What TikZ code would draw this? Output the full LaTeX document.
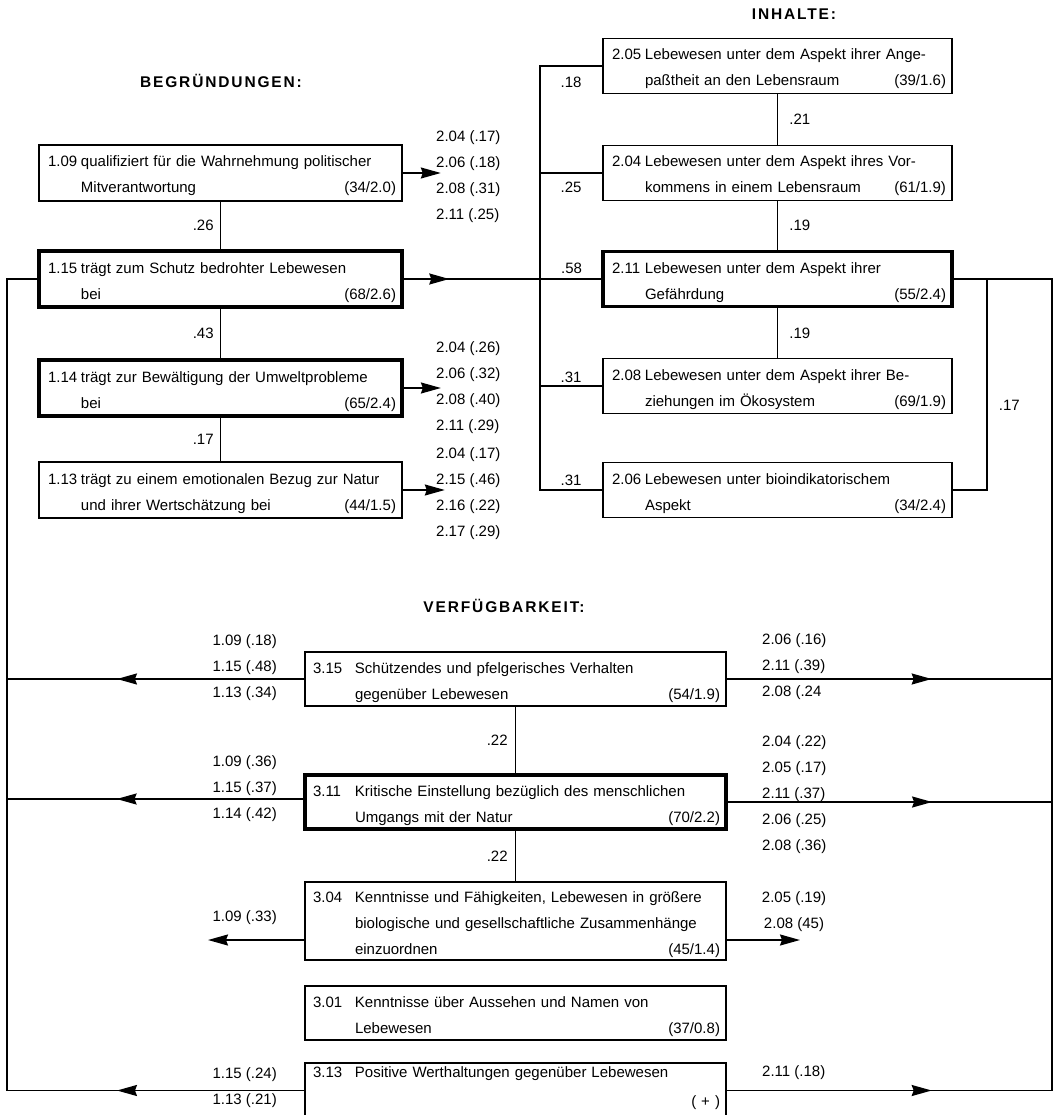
\documentclass[tikz,border=0pt]{standalone}
\usepackage{fontspec}
\setmainfont{Liberation Sans}
\usepackage{tikz}
\usetikzlibrary{arrows.meta,decorations.markings}

\newcommand{\stl}{\rule[-6pt]{0pt}{26pt}}
\newcommand{\nra}[1]{\stl\makebox[36pt][l]{\hspace*{3pt}#1}}
\newcommand{\ina}{\stl\hspace*{36pt}}
\newcommand{\nrb}[1]{\stl\makebox[44pt][l]{\hspace*{2pt}#1}}
\newcommand{\inb}{\stl\hspace*{44pt}}

\begin{document}
\begin{tikzpicture}[x=1pt,y=-1pt]
\tikzset{box/.style = {draw, line width=1.6pt, inner sep=0pt, align=left,
  font=\fontsize{15}{26}\selectfont}}
\tikzset{lbox/.style = {box, minimum width=363pt, text width=351pt, minimum height=56pt}}
\tikzset{ibox/.style = {box, minimum width=349pt, text width=337pt, minimum height=55pt}}
\tikzset{vbox/.style = {box, minimum width=421pt, text width=409pt, minimum height=54pt}}
\tikzset{heavy/.style = {line width=3.8pt}}
\tikzset{lab/.style = {inner sep=0pt, font=\fontsize{15}{26}\selectfont}}
\tikzset{head/.style = {inner sep=0pt,
  font={\fontsize{15.5}{18}\selectfont\bfseries\addfontfeature{LetterSpace=12}}}}
\tikzset{edge/.style = {line width=1.7pt}}
\tikzset{tip/.style = {-{Stealth[length=20pt,width=11pt,inset=2pt]}}}
\tikzset{mid/.style = {postaction={decorate,decoration={markings,
  mark=at position #1 with {\arrow{Stealth[length=20pt,width=11pt,inset=2pt]}}}}}}
\useasboundingbox (0,0) rectangle (1058,1115);
% headings
\node[head] (hb) at (221,81) {BEGRÜNDUNGEN:};
\node[head] (hi) at (794,14) {INHALTE:};
\node[head] (hv) at (504,606) {VERFÜGBARKEIT:};
% begruendungen
\node[lbox] (b109) at (220.5,173) {\nra{1.09}qualifiziert für die Wahrnehmung politischer\\\ina Mitverantwortung\hfill(34/2.0)};
\node[lbox,heavy] (b115) at (220.5,279) {\nra{1.15}trägt zum Schutz bedrohter Lebewesen\\\ina bei\hfill(68/2.6)};
\node[lbox,heavy] (b114) at (220.5,388) {\nra{1.14}trägt zur Bewältigung der Umweltprobleme\\\ina bei\hfill(65/2.4)};
\node[lbox] (b113) at (220.5,490) {\nra{1.13}trägt zu einem emotionalen Bezug zur Natur\\\ina und ihrer Wertschätzung bei\hfill(44/1.5)};
% inhalte
\node[ibox] (i205) at (777.5,66) {\nra{2.05}Lebewesen unter dem Aspekt ihrer Ange-\\\ina paßtheit an den Lebensraum\hfill(39/1.6)};
\node[ibox] (i204) at (777.5,173) {\nra{2.04}Lebewesen unter dem Aspekt ihres Vor-\\\ina kommens in einem Lebensraum\hfill(61/1.9)};
\node[ibox,heavy] (i211) at (777.5,279) {\nra{2.11}Lebewesen unter dem Aspekt ihrer\\\ina Gefährdung\hfill(55/2.4)};
\node[ibox] (i208) at (777.5,386) {\nra{2.08}Lebewesen unter dem Aspekt ihrer Be-\\\ina ziehungen im Ökosystem\hfill(69/1.9)};
\node[ibox] (i206) at (777.5,490) {\nra{2.06}Lebewesen unter bioindikatorischem\\\ina Aspekt\hfill(34/2.4)};
% verfuegbarkeit
\node[vbox] (k315) at (515.5,679) {\nrb{3.15}Schützendes und pfelgerisches Verhalten\\\inb gegenüber Lebewesen\hfill(54/1.9)};
\node[vbox,heavy] (k311) at (515.5,802) {\nrb{3.11}Kritische Einstellung bezüglich des menschlichen\\\inb Umgangs mit der Natur\hfill(70/2.2)};
\node[vbox,minimum height=78pt] (k304) at (515.5,921) {\nrb{3.04}Kenntnisse und Fähigkeiten, Lebewesen in größere\\\inb biologische und gesellschaftliche Zusammenhänge\\\inb einzuordnen\hfill(45/1.4)};
\node[vbox] (k301) at (515.5,1013) {\nrb{3.01}Kenntnisse über Aussehen und Namen von\\\inb Lebewesen\hfill(37/0.8)};
\node[vbox,anchor=north] (k313) at (515.5,1062) {\rule[-6pt]{0pt}{20.4pt}\makebox[44pt][l]{\hspace*{2pt}3.13}Positive Werthaltungen gegenüber Lebewesen\\[3pt]\rule[-12pt]{0pt}{32pt}\hfill( + )};
% lists of correlations
\node[lab,anchor=north west,align=left] (s109) at (436,130.5) {2.04 (.17)\\2.06 (.18)\\2.08 (.31)\\2.11 (.25)};
\node[lab,anchor=north west,align=left] (s114) at (436,341.5) {2.04 (.26)\\2.06 (.32)\\2.08 (.40)\\2.11 (.29)};
\node[lab,anchor=north west,align=left] (s113) at (436,447.5) {2.04 (.17)\\2.15 (.46)\\2.16 (.22)\\2.17 (.29)};
\node[lab,anchor=north east,align=right] (s315l) at (277,634.5) {1.09 (.18)\\1.15 (.48)\\1.13 (.34)};
\node[lab,anchor=north east,align=right] (s311l) at (277,755.5) {1.09 (.36)\\1.15 (.37)\\1.14 (.42)};
\node[lab,anchor=north east,align=right] (s304l) at (277,910.5) {1.09 (.33)};
\node[lab,anchor=north east,align=right] (s313l) at (277,1067) {1.15 (.24)\\1.13 (.21)};
\node[lab,anchor=north west,align=left] (s315r) at (762,633.5) {2.06 (.16)\\2.11 (.39)\\2.08 (.24};
\node[lab,anchor=north west,align=left] (s311r) at (762,735.5) {2.04 (.22)\\2.05 (.17)\\2.11 (.37)\\2.06 (.25)\\2.08 (.36)};
\node[lab,anchor=north,align=center] (s304r) at (794,891.5) {2.05 (.19)\\2.08 (45)};
\node[lab,anchor=north west,align=left] (s313r) at (762,1065.5) {2.11 (.18)};
% bus lines
\coordinate (lbus) at (7,0);
\coordinate (ibus) at (540,0);
\coordinate (c17) at (987,0);
\coordinate (rbus) at (1052,0);
\coordinate (a311) at ([yshift=3pt]k311.west);
\coordinate (t304l) at (208,940);
\coordinate (t304r) at (800,940);
%edges
\draw[edge] (b109.south) -- node[lab,left=6pt] (r26) {.26} (b115.north);
\draw[edge] (b115.south) -- node[lab,left=6pt] (r43) {.43} (b114.north);
\draw[edge] (b114.south) -- node[lab,left=6pt] (r17a) {.17} (b113.north);
\draw[edge,tip] (b109.east) -- ([xshift=38pt]b109.east);
\draw[edge,tip] (b114.east) -- ([xshift=37pt]b114.east);
\draw[edge,tip] (b113.east) -- ([xshift=42pt]b113.east);
\draw[edge,mid=0.23] (b115.east) -- (i211.west);
\node[lab,anchor=south] (r58) at (571.5,274) {.58};
\draw[edge] (i205.west) -- node[lab,below=10pt] (r18) {.18} (ibus |- i205.west)
  -- (ibus |- i206.west) -- node[lab,above=4pt] (r31b) {.31} (i206.west);
\draw[edge] (i204.west) -- node[lab,below=8pt] (r25) {.25} (ibus |- i204.west);
\draw[edge] (i208.west) -- node[lab,above=3pt] (r31a) {.31} (ibus |- i208.west);
\draw[edge] (i205.south) -- node[lab,right=11pt] (r21) {.21} (i204.north);
\draw[edge] (i204.south) -- node[lab,right=11pt] (r19a) {.19} (i211.north);
\draw[edge] (i211.south) -- node[lab,right=11pt] (r19b) {.19} (i208.north);
\draw[edge] (i206.east) -| node[lab,pos=0.7,right=11pt] (r17b) {.17} (c17 |- i211.east);
\draw[edge] (i211.east) -| (rbus |- k313.east);
\draw[edge] (b115.west) -| (lbus |- k313.west);
\draw[edge] (k315.south) -- node[lab,left=7pt] (r22a) {.22} (k311.north);
\draw[edge] (k311.south) -- node[lab,left=7pt] (r22b) {.22} (k304.north);
\draw[edge,mid=0.63] (k315.west) -- (lbus |- k315.west);
\draw[edge,mid=0.63] (a311) -- (lbus |- a311);
\draw[edge,mid=0.63] (k313.west) -- (lbus |- k313.west);
\draw[edge,mid=0.63] (k315.east) -- (rbus |- k315.east);
\draw[edge,mid=0.63] (k311.east) -- (rbus |- k311.east);
\draw[edge,mid=0.63] (k313.east) -- (rbus |- k313.east);
\draw[edge,tip] (k304.west |- t304l) -- (t304l);
\draw[edge,tip] (k304.east |- t304r) -- (t304r);
\end{tikzpicture}
\end{document}
